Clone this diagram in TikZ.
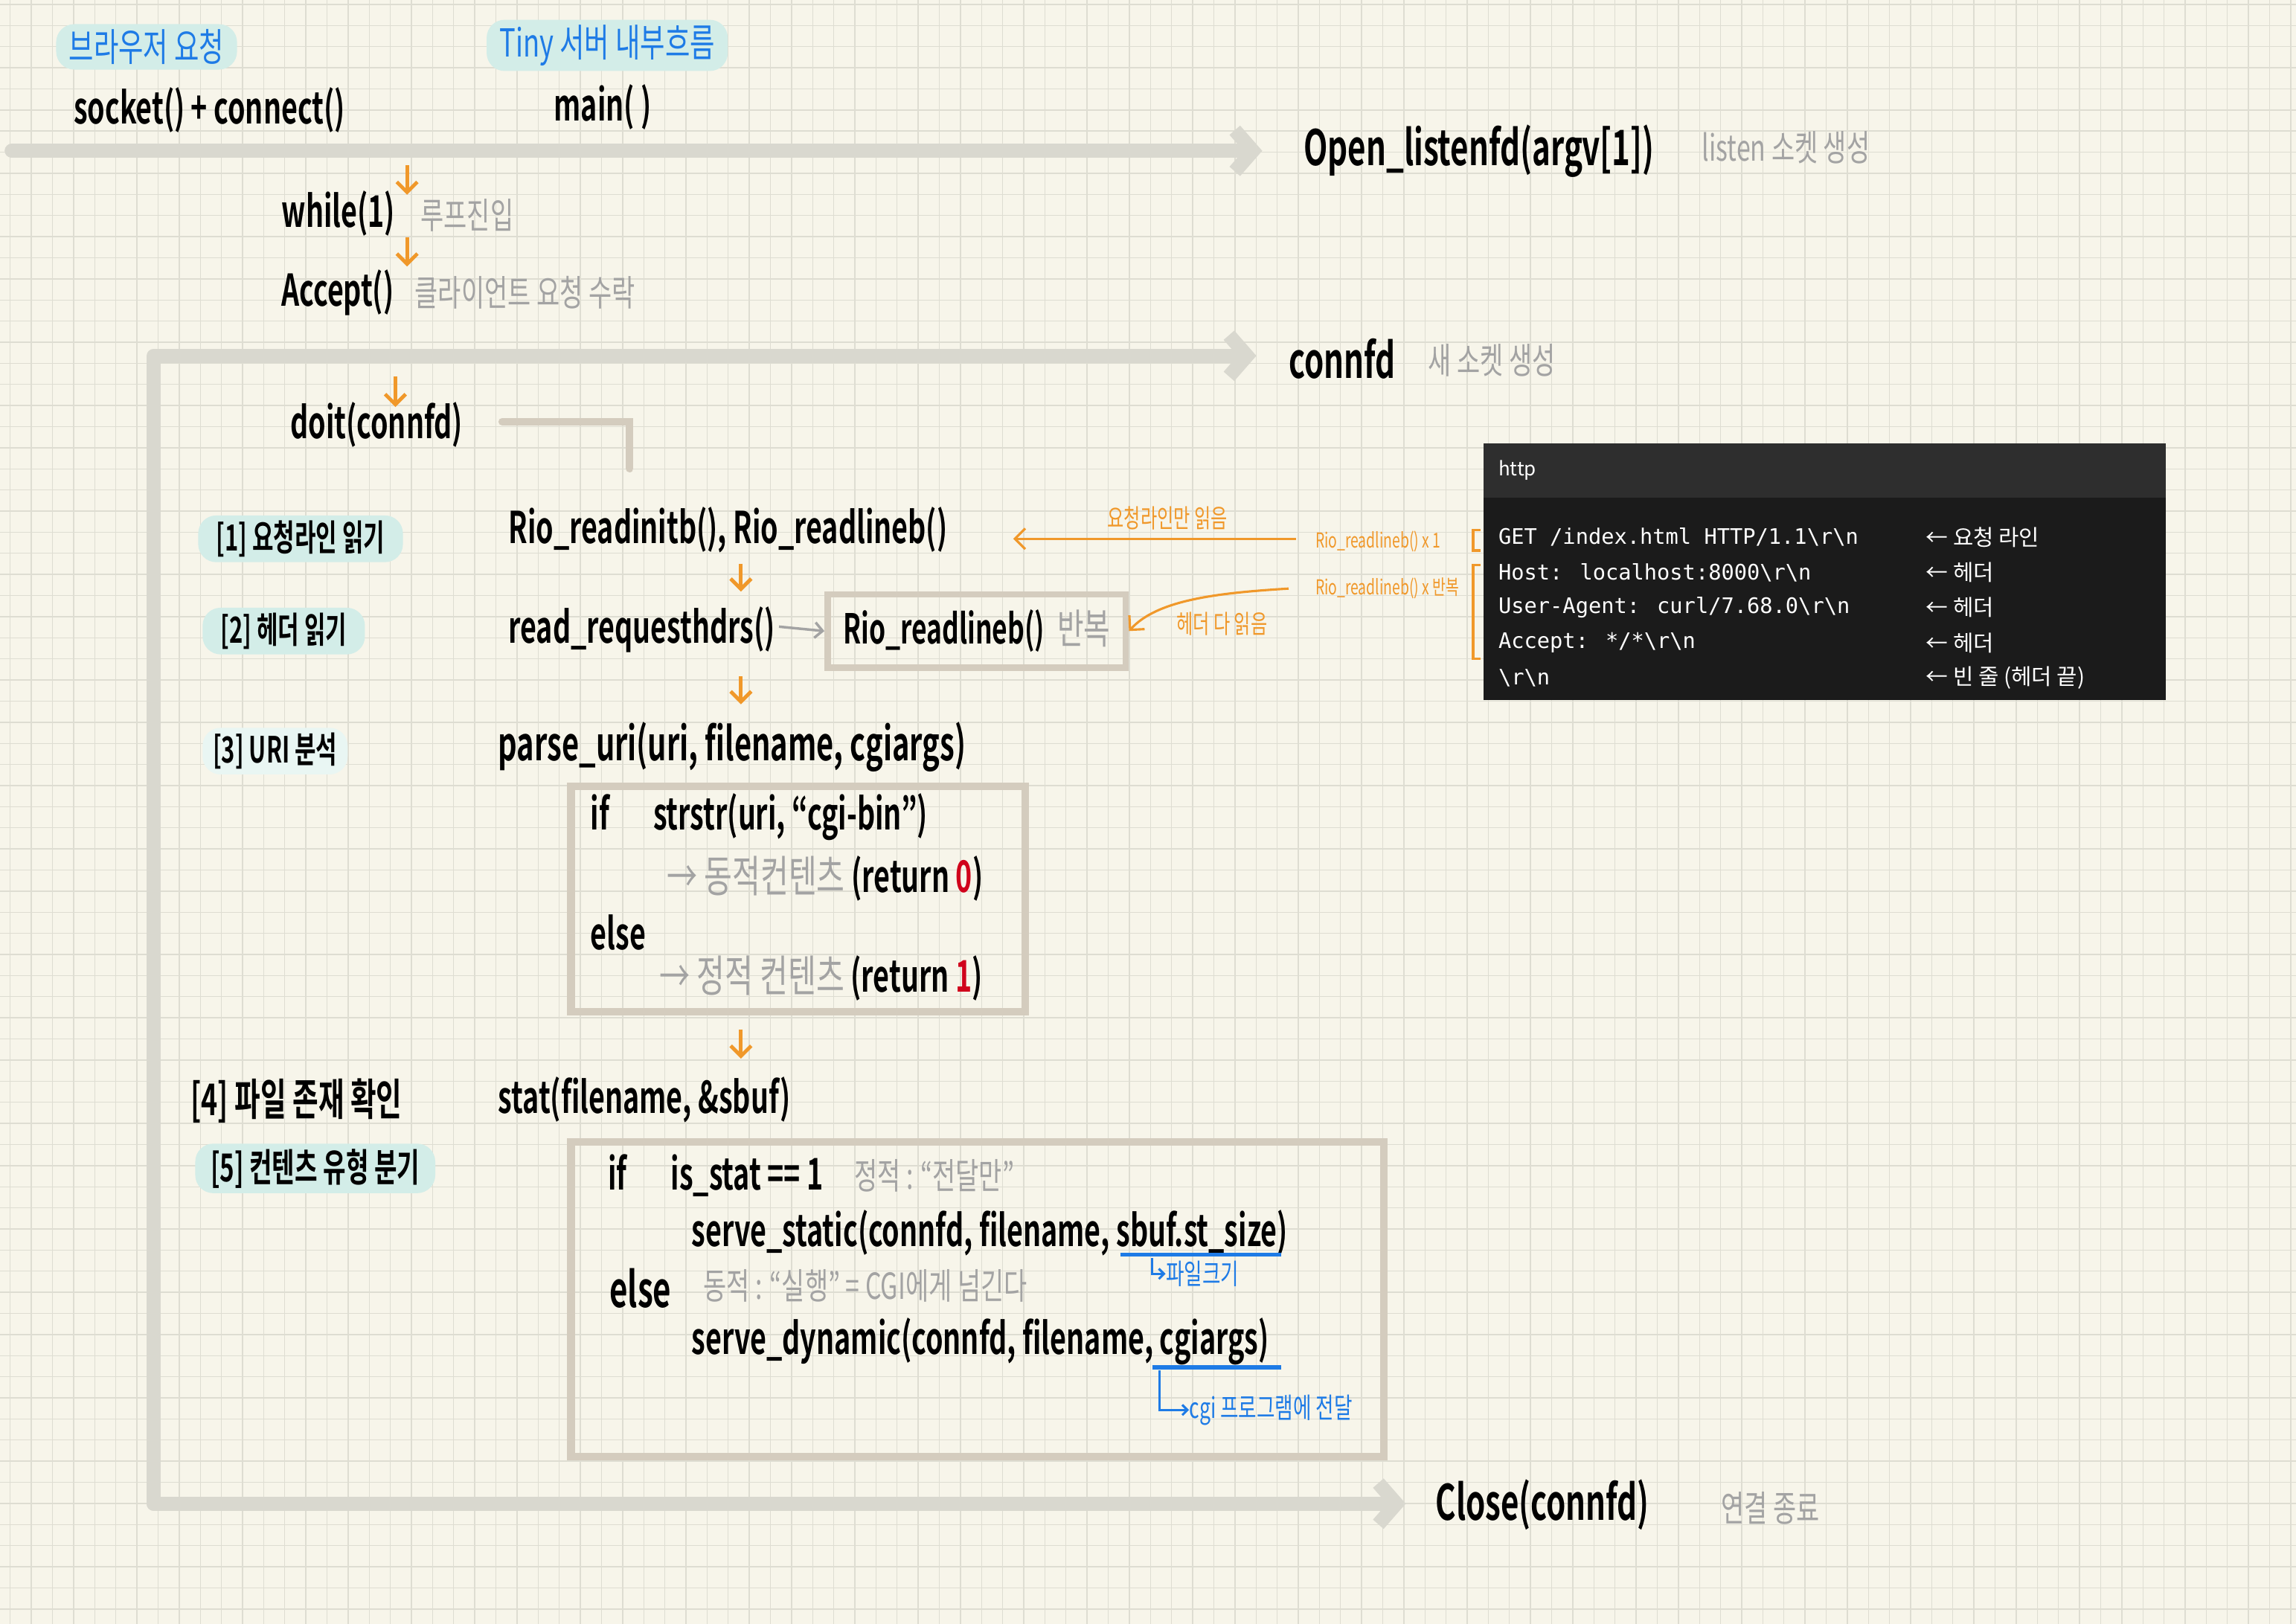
\documentclass[tikz,border=0pt]{standalone}
\usepackage{fontspec}
\setmainfont{Noto Sans CJK KR}
\newfontfamily\hand[FakeStretch=0.64]{Noto Sans CJK KR Bold}
\newfontfamily\handl[FakeStretch=0.7]{Noto Sans CJK KR}
\newfontfamily\monof{DejaVu Sans Mono}
\newfontfamily\krf{Noto Sans CJK KR}
\usetikzlibrary{arrows.meta}
\definecolor{paper}{HTML}{F7F5EA}
\definecolor{gridc}{HTML}{DEDDD2}
\definecolor{org}{HTML}{F0982A}
\definecolor{flow}{HTML}{D9D8CF}
\definecolor{boxc}{HTML}{D4CCBE}
\definecolor{blu}{HTML}{1E7BE6}
\definecolor{notec}{HTML}{A3A3A3}
\definecolor{redc}{HTML}{D0021B}
\definecolor{pillc}{HTML}{D3EDE8}
\definecolor{codebg}{HTML}{1B1B1B}
\definecolor{codehd}{HTML}{2E2E2E}
\tikzset{
 hand/.style={font=\hand\fontsize{17}{20}\selectfont, anchor=west, inner sep=0pt, text=black},
 handbig/.style={font=\hand\fontsize{19}{22}\selectfont, anchor=west, inner sep=0pt, text=black},
 note/.style={font=\handl\fontsize{14}{16}\selectfont, anchor=west, inner sep=0pt, text=notec},
 bluenote/.style={font=\handl\fontsize{11}{13}\selectfont, anchor=west, inner sep=0pt, text=blu},
 orgnote/.style={font=\handl\fontsize{8}{10}\selectfont, anchor=west, inner sep=0pt, text=org},
 pill/.style={font=\hand\fontsize{14}{16}\selectfont, anchor=west, fill=pillc, rounded corners=7pt, inner xsep=5pt, inner ysep=2pt},
 bluepill/.style={pill, text=blu, font=\handl\fontsize{15}{17}\selectfont},
 darr/.style={draw=org, line width=1.4pt, -{Straight Barb[length=4pt,width=8pt]}},
 oarr/.style={draw=org, line width=0.9pt, -{Straight Barb[length=4pt,width=8pt]}},
 flowline/.style={draw=flow, line width=5.5pt, line cap=round, line join=round},
 flowarr/.style={flowline, -{Straight Barb[length=7pt,width=16pt]}},
 framebox/.style={draw=boxc, line width=3pt},
 code/.style={font=\monof\fontsize{8.3}{10}\selectfont, text=white, anchor=west, inner sep=0pt},
 ccom/.style={font=\krf\fontsize{8.6}{10}\selectfont, text=white, anchor=west, inner sep=0pt},
}
\begin{document}
\begin{tikzpicture}[x=0.02cm,y=-0.02cm]
\useasboundingbox (0,0) rectangle (1568,1109);
\fill[paper] (0,0) rectangle (1568,1109);
\foreach \i in {0,...,109} {\draw[gridc, line width=0.4pt] ({7+\i*14.42},0) -- ({7+\i*14.42},1109);}
\foreach \j in {0,...,77} {\draw[gridc, line width=0.4pt] (0,{3+\j*14.42}) -- (1568,{3+\j*14.42});}

% headers
\node[bluepill] (hb) at (38,32) {브라우저 요청};
\node[bluepill] (ht) at (332,31) {Tiny 서버 내부흐름};
\node[hand] (sock) at (50,75) {socket() + connect()};
\node[hand] (main) at (378,73) {main( )};

% top flow
\coordinate (f1s) at (8,103);
\coordinate (f1e) at (862,103);
\draw[flowarr] (f1s) -- (f1e);
\node[handbig] (open) at (890,103) {Open\_listenfd(argv[1])};
\node[note] (opn) at (1162,101) {listen 소켓 생성};

\coordinate (a1s) at (278,113); \coordinate (a1e) at (278,133);
\draw[darr] (a1s) -- (a1e);
\node[hand] (wh) at (192,146) {while(1)};
\node[note] (whn) at (287,147) {루프진입};
\coordinate (a2s) at (278,162); \coordinate (a2e) at (278,182);
\draw[darr] (a2s) -- (a2e);
\node[hand] (acc) at (192,200) {Accept()};
\node[note] (accn) at (283,200) {클라이언트 요청 수락};

% loop flow
\coordinate (lp1) at (105,1027);
\coordinate (lp2) at (105,243);
\coordinate (lp3) at (858,243);
\draw[flowarr] (lp1) -- (lp2) -- (lp3);
\node[handbig] (cfd) at (880,245) {connfd};
\node[note] (cfdn) at (975,246) {새 소켓 생성};
\coordinate (lp4) at (960,1027);
\draw[flowarr] (lp1) -- (lp4);
\node[handbig] (close) at (980,1028) {Close(connfd)};
\node[note] (closen) at (1175,1030) {연결 종료};

\coordinate (a3s) at (270,257); \coordinate (a3e) at (270,278);
\draw[darr] (a3s) -- (a3e);
\node[hand] (doit) at (198,290) {doit(connfd)};
\coordinate (b0) at (343,288);
\coordinate (b1) at (430,320);
\draw[boxc, line width=3pt, line cap=round] (b0) -- (430,288) -- (b1);

% step 1
\node[pill, inner xsep=7pt] (s1) at (135,368) {[1] 요청라인 읽기};
\node[hand] (rio1) at (347,362) {Rio\_readinitb(), Rio\_readlineb()};
\coordinate (a4s) at (506,385); \coordinate (a4e) at (506,404);
\draw[darr] (a4s) -- (a4e);

% step 2
\node[pill, inner xsep=7pt] (s2) at (138,431) {[2] 헤더 읽기};
\node[hand] (rdh) at (347,430) {read\_requesthdrs()};
\node[draw=boxc, line width=2.5pt, anchor=west, inner xsep=6pt, minimum height=1cm, font=\hand\fontsize{16}{19}\selectfont] (rbox) at (563,431) {Rio\_readlineb()\, \textcolor{notec}{\handl 반복}};
\coordinate (gs) at (532,428);
\draw[draw=notec, line width=1pt, -{Straight Barb[length=3pt,width=6pt]}] (gs) -- (rbox.west);
\coordinate (a5s) at (506,462); \coordinate (a5e) at (506,481);
\draw[darr] (a5s) -- (a5e);

% orange annotations
\node[orgnote] (x1) at (898,370) {Rio\_readlineb() x 1};
\node[orgnote] (xr) at (898,402) {Rio\_readlineb() x 반복};
\node[orgnote, font=\handl\fontsize{10}{12}\selectfont] (l1) at (756,354) {요청라인만 읽음};
\coordinate (o1e) at (692,368);
\draw[oarr] (x1.west) ++(-13,-2) -- (o1e);
\draw[oarr] (xr.west) ++(-18,0) .. controls (830,405) and (790,410) .. (rbox.east);
\node[orgnote, font=\handl\fontsize{10}{12}\selectfont] (l2) at (803,426) {헤더 다 읽음};
\draw[org, line width=1pt] (1011,362) -- (1006,362) -- (1006,376) -- (1011,376);
\draw[org, line width=1pt] (1011,386) -- (1006,386) -- (1006,450) -- (1011,450);

% code box
\fill[codehd] (1013,303) rectangle (1479,340);
\fill[codebg] (1013,340) rectangle (1479,478);
\node[code, font=\krf\fontsize{7.5}{9}\selectfont] (ch) at (1023,321) {http};
\node[code] (c1) at (1023,367) {GET /index.html HTTP/1.1\textbackslash r\textbackslash n};
\node[code] (c2) at (1023,391) {Host: localhost:8000\textbackslash r\textbackslash n};
\node[code] (c3) at (1023,415) {User-Agent: curl/7.68.0\textbackslash r\textbackslash n};
\node[code] (c4) at (1023,439) {Accept: */*\textbackslash r\textbackslash n};
\node[code] (c5) at (1023,463) {\textbackslash r\textbackslash n};
\node[ccom] (k1) at (1315,367) {← 요청 라인};
\node[ccom] (k2) at (1315,391) {← 헤더};
\node[ccom] (k3) at (1315,415) {← 헤더};
\node[ccom] (k4) at (1315,439) {← 헤더};
\node[ccom] (k5) at (1315,463) {← 빈 줄 (헤더 끝)};

% step 3
\node[pill, fill=pillc!50, inner xsep=4pt] (s3) at (138,513) {[3] URI 분석};
\node[hand, font=\hand\fontsize{18}{21}\selectfont] (puri) at (340,510) {parse\_uri(uri, filename, cgiargs)};
\draw[framebox] (390,537) rectangle (700,691);
\node[hand] (if1) at (403,558) {if\quad strstr(uri, “cgi-bin”)};
\node[hand] (dyn) at (455,600) {\textcolor{notec}{\handl → 동적컨텐츠} (return \textcolor{redc}{0})};
\node[hand] (el1) at (403,637) {else};
\node[hand] (sta) at (450,668) {\textcolor{notec}{\handl → 정적 컨텐츠} (return \textcolor{redc}{1})};
\coordinate (a6s) at (506,703); \coordinate (a6e) at (506,723);
\draw[darr] (a6s) -- (a6e);

% step 4/5
\node[hand] (s4) at (130,752) {[4] 파일 존재 확인};
\node[hand] (stat) at (340,751) {stat(filename, \&sbuf)};
\node[pill, font=\hand\fontsize{15}{17}\selectfont, inner xsep=6pt] (s5) at (133,798) {[5] 컨텐츠 유형 분기};
\draw[framebox] (390,780) rectangle (945,995);
\node[hand] (if2) at (415,803) {if\quad is\_stat == 1};
\node[note] (if2n) at (583,803) {정적 : “전달만”};
\node[hand] (ss) at (472,842) {serve\_static(connfd, filename, sbuf.st\_size)};
\coordinate (u1a) at (765,857); \coordinate (u1b) at (875,857);
\draw[blu, line width=1.6pt] (u1a) -- (u1b);
\node[bluenote] (fs) at (796,870) {파일크기};
\coordinate (u1c) at (787,859);
\draw[blu, line width=0.9pt, -{Straight Barb[length=2pt,width=4pt]}] (u1c) |- (fs.west);
\node[handbig] (el2) at (416,880) {else};
\node[note] (el2n) at (480,878) {동적 : “실행” = CGI에게 넘긴다};
\node[hand] (sd) at (472,916) {serve\_dynamic(connfd, filename, cgiargs)};
\coordinate (u2a) at (787,934); \coordinate (u2b) at (875,934);
\draw[blu, line width=1.6pt] (u2a) -- (u2b);
\node[bluenote] (cg) at (812,963) {cgi 프로그램에 전달};
\coordinate (u2c) at (792,936);
\draw[blu, line width=0.9pt, -{Straight Barb[length=2pt,width=4pt]}] (u2c) |- (cg.west);
\end{tikzpicture}
\end{document}
